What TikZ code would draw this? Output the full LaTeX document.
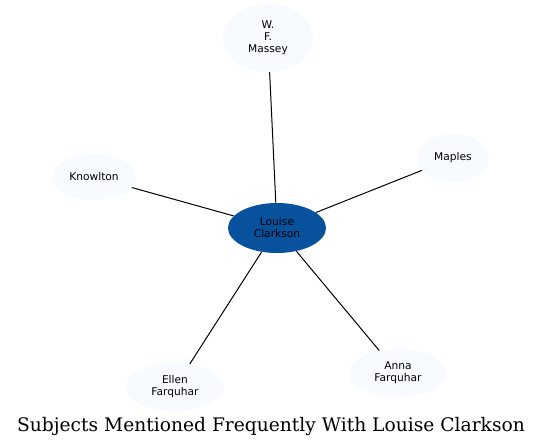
\documentclass[tikz,border=0pt]{standalone}
\usepackage{fontspec}
\setmainfont{DejaVu Serif}
\newfontfamily\labelfont{DejaVu Sans}
\usetikzlibrary{shapes.geometric}
\definecolor{hubblue}{HTML}{08519C}
\definecolor{leafblue}{HTML}{F7FBFF}
\tikzset{
  subject/.style={ellipse, fill=leafblue, inner sep=0pt, align=center,
    font=\labelfont\fontsize{8}{9}\selectfont},
  hub/.style={subject, fill=hubblue},
  link/.style={draw=black, line width=0.75pt}
}

\begin{document}
\begin{tikzpicture}[x=0.75pt, y=-0.75pt]
        \useasboundingbox (0,0) rectangle (543,448);
        \node[hub, minimum width=73.5pt, minimum height=37.5pt] (louise) at (277,228) {Louise\\Clarkson};
        \node[subject, minimum width=67.5pt, minimum height=51pt] (massey) at (268,38) {W.\\F.\\Massey};
        \node[subject, minimum width=54pt, minimum height=36pt] (maples) at (453,158) {Maples};
        \node[subject, minimum width=63pt, minimum height=34.5pt] (knowlton) at (94,177) {Knowlton};
        \node[subject, minimum width=73.5pt, minimum height=36pt] (ellen) at (175,387) {Ellen\\Farquhar};
        \node[subject, minimum width=73.5pt, minimum height=36pt] (anna) at (398,373) {Anna\\Farquhar};
        \draw[link] (louise) -- (massey);
        \draw[link] (louise) -- (maples);
        \draw[link] (louise) -- (knowlton);
        \draw[link] (louise) -- (ellen);
        \draw[link] (louise) -- (anna);
        \node[font=\fontsize{14}{16}\selectfont, anchor=base] (title) at (271,432) {Subjects Mentioned Frequently With Louise Clarkson};
    \end{tikzpicture}
\end{document}
